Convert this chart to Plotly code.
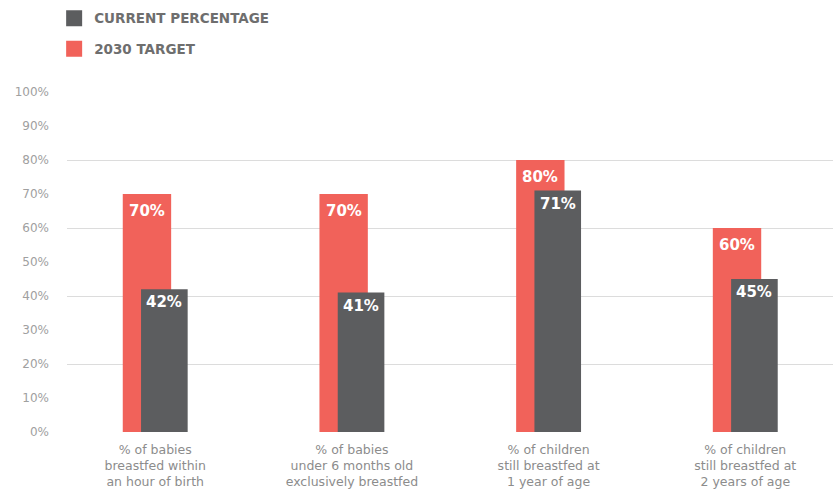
import plotly.graph_objects as go

categories = [
    "% of babies<br>breastfed within<br>an hour of birth",
    "% of babies<br>under 6 months old<br>exclusively breastfed",
    "% of children<br>still breastfed at<br>1 year of age",
    "% of children<br>still breastfed at<br>2 years of age",
]
target_2030 = [70, 70, 80, 60]
current_pct = [42, 41, 71, 45]
series_names = ["CURRENT PERCENTAGE", "2030 TARGET"]
y_ticks = [0, 10, 20, 30, 40, 50, 60, 70, 80, 90, 100]

RED = "#F1625A"
GRAY = "#5C5D5F"
FONT = "DejaVu Sans, sans-serif"

# bar geometry (category units)
RED_OFF, RED_W = -0.165, 0.246
GRAY_OFF, GRAY_W = -0.072, 0.237

fig = go.Figure()

fig.add_trace(go.Bar(
    x=categories, y=target_2030, name=series_names[1],
    marker=dict(color=RED, line=dict(width=0)),
    offset=RED_OFF, width=RED_W,
    showlegend=False, hoverinfo="skip",
))
fig.add_trace(go.Bar(
    x=categories, y=current_pct, name=series_names[0],
    marker=dict(color=GRAY, line=dict(width=0)),
    offset=GRAY_OFF, width=GRAY_W,
    showlegend=False, hoverinfo="skip",
))

# value labels inside the top of each bar
annotations = []
for i, v in enumerate(target_2030):
    annotations.append(dict(
        x=i + RED_OFF + RED_W / 2, y=v, xref="x", yref="y",
        text=f"{v}%", showarrow=False, yanchor="middle", yshift=-17,
        font=dict(color="white", size=15, family=FONT, weight="bold"),
    ))
for i, v in enumerate(current_pct):
    annotations.append(dict(
        x=i + GRAY_OFF + GRAY_W / 2, y=v, xref="x", yref="y",
        text=f"{v}%", showarrow=False, yanchor="middle", yshift=-13,
        font=dict(color="white", size=15, family=FONT, weight="bold"),
    ))

# legend entries
for name, col in [(series_names[0], GRAY), (series_names[1], RED)]:
    fig.add_trace(go.Scatter(
        x=[None], y=[None], mode="markers", name=name,
        marker=dict(symbol="square", size=16, color=col),
        legendgroup=name, showlegend=True,
    ))

# invisible trace to carry the label axis
fig.add_trace(go.Scatter(x=[None], y=[None], yaxis="y2", showlegend=False, hoverinfo="skip"))

fig.update_layout(
    width=833, height=490,
    margin=dict(l=67, r=0, t=92, b=58, autoexpand=False),
    plot_bgcolor="white", paper_bgcolor="white",
    barmode="overlay",
    font=dict(family=FONT, color="#9a9a9a", size=12),
    annotations=annotations,
    xaxis=dict(
        type="category", range=[-0.4485, 3.446],
        showgrid=False, zeroline=False, showline=False,
        ticks="", tickfont=dict(size=12.5, color="#8c8c8c"),
        ticklabelstandoff=8, automargin=False,
    ),
    yaxis=dict(
        range=[0, 100], dtick=20, tick0=0,
        showgrid=True, gridcolor="#dcdcdc", gridwidth=1,
        zeroline=False, showticklabels=False, ticks="", automargin=False,
    ),
    yaxis2=dict(
        overlaying="y", side="left", range=[0, 100],
        tickvals=y_ticks, ticktext=[f"{v}%" for v in y_ticks],
        showgrid=False, zeroline=False, ticks="",
        tickfont=dict(size=12, color="#a0a0a0"),
        ticklabelstandoff=17, automargin=False,
    ),
    legend=dict(
        xref="container", yref="container", x=0.065, y=0.994,
        xanchor="left", yanchor="top",
        font=dict(size=13.5, color="#6e6e6e", family=FONT, weight="bold"),
        tracegroupgap=10, bgcolor="rgba(0,0,0,0)",
        itemsizing="trace",
    ),
    showlegend=True,
)

fig.write_html("out.html", config={"displayModeBar": False},
               post_script="document.body.style.margin='0';")
